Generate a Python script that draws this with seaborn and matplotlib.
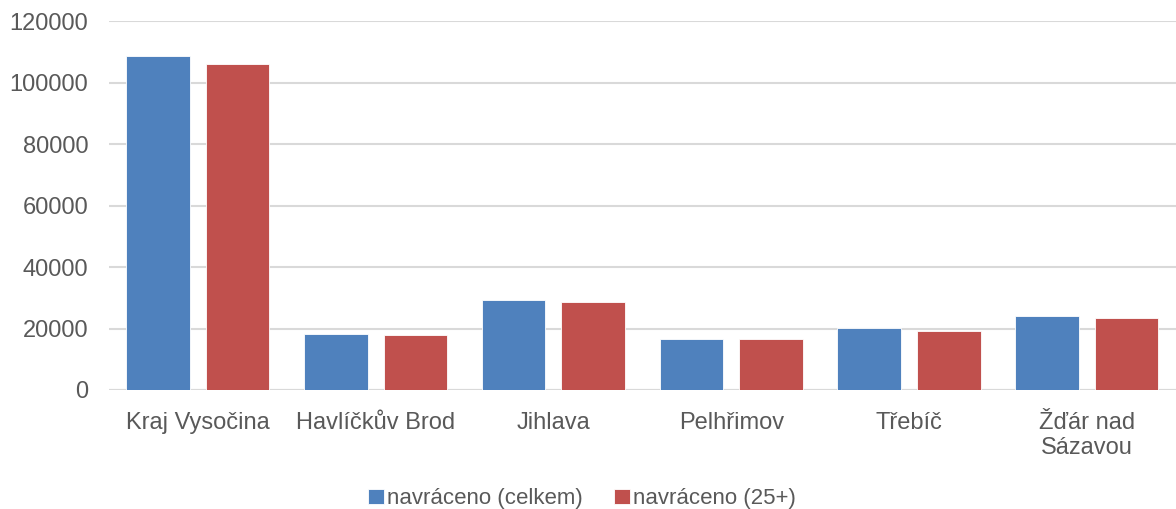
import matplotlib
matplotlib.use("Agg")
import matplotlib.pyplot as plt
import pandas as pd
import seaborn as sns

# data
categories = ["Kraj Vysočina", "Havlíčkův Brod", "Jihlava", "Pelhřimov", "Třebíč", "Žďár nad\nSázavou"]
series_names = ["navráceno (celkem)", "navráceno (25+)"]
celkem = [108900, 18200, 29400, 16750, 20150, 23950]
plus25 = [106100, 17950, 28500, 16500, 19250, 23300]
yticks = [0, 20000, 40000, 60000, 80000, 100000, 120000]

df = pd.DataFrame({
    "kategorie": categories * 2,
    "serie": [series_names[0]] * len(categories) + [series_names[1]] * len(categories),
    "hodnota": celkem + plus25,
})

sns.set_theme(style="white")
plt.rcParams["font.family"] = ["Liberation Sans", "DejaVu Sans"]
text_color = "#595959"

fig = plt.figure(figsize=(11.76, 5.09), dpi=100)
ax = fig.add_axes([0.0927, 0.2338, 0.907, 0.724])

sns.barplot(
    data=df, x="kategorie", y="hodnota", hue="serie",
    palette=["#4F81BD", "#C0504D"], width=0.894, gap=0.2,
    edgecolor="white", linewidth=0.6, saturation=1, ax=ax, zorder=3,
)

ax.set_ylim(0, 120000)
ax.set_yticks(yticks)
ax.set_yticklabels([str(v) for v in yticks])
ax.yaxis.grid(True, color="#D9D9D9", linewidth=1.5, zorder=0)
ax.set_axisbelow(True)
for s in ax.spines.values():
    s.set_visible(False)
ax.axhline(0, color="#D9D9D9", linewidth=1.5, zorder=1)
ax.set_xlabel("")
ax.set_ylabel("")
ax.tick_params(axis="both", length=0, labelsize=17, labelcolor=text_color)
ax.tick_params(axis="x", pad=16)
ax.tick_params(axis="y", pad=15)
for lbl in ax.get_xticklabels():
    lbl.set_linespacing(1.15)

ax.legend_.remove()
handles, labels = ax.get_legend_handles_labels()
fig.legend(
    handles, labels, loc="center", bbox_to_anchor=(0.495, 0.02), ncol=2,
    frameon=False, fontsize=16, labelcolor=text_color,
    handlelength=0.7, handleheight=0.7, handletextpad=0.15, columnspacing=1.4,
)

fig.savefig("out.png", dpi=100)
